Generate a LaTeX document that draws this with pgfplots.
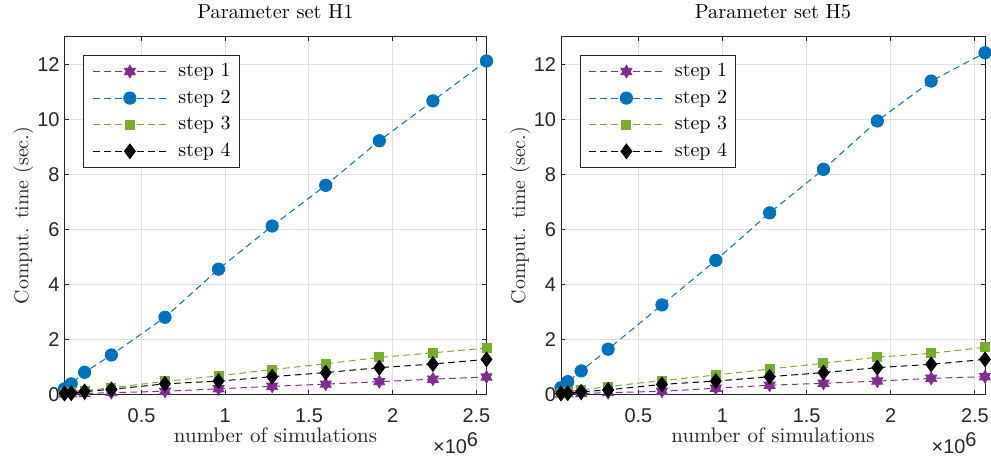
\documentclass[border=0pt]{standalone}
\usepackage{fontspec}
\usepackage{pgfplots}
\usepackage{pgfplotstable}
\pgfplotsset{compat=1.18}
\newfontfamily\ticksf{Liberation Sans}

\definecolor{cpurple}{RGB}{126,47,142}
\definecolor{cblue}{RGB}{0,114,189}
\definecolor{cgreen}{RGB}{119,172,48}
\definecolor{axgray}{RGB}{38,38,38}
\definecolor{gridgray}{RGB}{224,224,224}

% filled six-pointed star (MATLAB 'hexagram')
\pgfdeclareplotmark{hexagram}{%
  \pgfpathmoveto{\pgfqpointpolar{90}{\pgfplotmarksize}}%
  \pgfpathlineto{\pgfqpointpolar{210}{\pgfplotmarksize}}%
  \pgfpathlineto{\pgfqpointpolar{330}{\pgfplotmarksize}}%
  \pgfpathclose
  \pgfpathmoveto{\pgfqpointpolar{270}{\pgfplotmarksize}}%
  \pgfpathlineto{\pgfqpointpolar{30}{\pgfplotmarksize}}%
  \pgfpathlineto{\pgfqpointpolar{150}{\pgfplotmarksize}}%
  \pgfpathclose
  \pgfusepathqfillstroke
}

% x in units of 1e6 simulations
\pgfplotstableread{
n    s1    s2     s3    s4
0.04 0.01  0.20   0.06  0.03
0.08 0.02  0.38   0.08  0.04
0.16 0.03  0.80   0.13  0.10
0.32 0.06  1.43   0.24  0.18
0.64 0.11  2.80   0.47  0.38
0.96 0.20  4.55   0.67  0.48
1.28 0.29  6.12   0.90  0.64
1.60 0.37  7.60   1.11  0.79
1.92 0.46  9.22   1.34  0.97
2.24 0.55  10.67  1.51  1.10
2.56 0.63  12.12  1.68  1.27
}\tableHone

\pgfplotstableread{
n    s1    s2     s3    s4
0.04 0.01  0.24   0.06  0.03
0.08 0.02  0.46   0.09  0.04
0.16 0.03  0.85   0.16  0.09
0.32 0.06  1.64   0.28  0.16
0.64 0.11  3.25   0.50  0.36
0.96 0.22  4.87   0.70  0.48
1.28 0.33  6.60   0.92  0.64
1.60 0.40  8.18   1.13  0.79
1.92 0.48  9.94   1.35  0.97
2.24 0.58  11.39  1.49  1.09
2.56 0.64  12.42  1.71  1.27
}\tableHfive

\pgfplotsset{
  dashln/.style={line width=0.5bp, dash pattern=on 3.3bp off 2.2bp},
  stepone/.style={dashln, color=cpurple, mark=hexagram, mark size=3.1bp,
    mark options={solid, fill=cpurple}},
  steptwo/.style={dashln, color=cblue, mark=*, mark size=3.05bp,
    mark options={solid, fill=cblue}},
  stepthree/.style={dashln, color=cgreen, mark=square*, mark size=2.25bp,
    mark options={solid, fill=cgreen}},
  stepfour/.style={dashln, color=black, mark=diamond*, mark size=3.6bp,
    mark options={solid, fill=black}},
  comptime/.style={
    width=211bp, height=178.75bp, scale only axis,
    anchor=south west, clip=false,
    xmin=0.04, xmax=2.56, ymin=0, ymax=13,
    xtick={0.5,1,1.5,2,2.5}, ytick={0,2,...,12},
    scaled ticks=false,
    /pgf/number format/assume math mode=true,
    ticklabel style={font=\ticksf\fontsize{10}{12}\selectfont, color=axgray},
    xticklabel style={yshift=-3.7bp},
    yticklabel style={xshift=1bp},
    grid=major, major grid style={color=gridgray, line width=0.5bp},
    tick align=inside, major tick length=2.2bp,
    tick style={color=axgray, line width=0.5bp},
    axis line style={color=axgray, line width=0.5bp},
    xlabel={number of simulations}, ylabel={Comput. time (sec.)},
    xlabel style={at={([yshift=-24bp]axis description cs:0.5,0)}, anchor=base,
      font=\fontsize{10.5}{12}\selectfont, color=axgray},
    ylabel style={at={([xshift=-18bp]axis description cs:0,0.5)}, anchor=base,
      rotate=0, font=\fontsize{10}{12}\selectfont, color=axgray},
    title style={at={([yshift=3bp]axis description cs:0.5,1)}, anchor=base,
      font=\fontsize{10.2}{12}\selectfont},
    legend cell align=left,
    legend style={at={(0,1)}, anchor=north west, xshift=9.4bp, yshift=-9.1bp,
      draw=axgray, line width=0.5bp, fill=white,
      font=\fontsize{10}{12}\selectfont,
      inner xsep=4.3bp, inner ysep=3.5bp, row sep=4.3bp, column sep=5.5bp,
      nodes={inner sep=0bp, text height=7bp, text depth=2bp}},
    legend image code/.code={%
      \draw[mark repeat=2,mark phase=2] plot coordinates {(0bp,0bp) (18.5bp,0bp) (37bp,0bp)};},
  },
}

\begin{document}
\begin{tikzpicture}
\path[use as bounding box] (0bp,0bp) rectangle (495.5bp,228bp);

\begin{axis}[comptime, at={(32.25bp,30.85bp)}, title={Parameter set H1}]
\addplot[stepone] table[x=n,y=s1] {\tableHone};
\addplot[steptwo] table[x=n,y=s2] {\tableHone};
\addplot[stepthree] table[x=n,y=s3] {\tableHone};
\addplot[stepfour] table[x=n,y=s4] {\tableHone};
\legend{step 1,step 2,step 3,step 4}
\node[anchor=base east, font=\ticksf\fontsize{10}{12}\selectfont, color=axgray]
  at ([xshift=-0.7bp,yshift=-29.4bp]axis description cs:1,0) {×10\raisebox{3.5bp}{6}};
\end{axis}

\begin{axis}[comptime, at={(280.5bp,30.85bp)}, width=212bp, title={Parameter set H5}]
\addplot[stepone] table[x=n,y=s1] {\tableHfive};
\addplot[steptwo] table[x=n,y=s2] {\tableHfive};
\addplot[stepthree] table[x=n,y=s3] {\tableHfive};
\addplot[stepfour] table[x=n,y=s4] {\tableHfive};
\legend{step 1,step 2,step 3,step 4}
\node[anchor=base east, font=\ticksf\fontsize{10}{12}\selectfont, color=axgray]
  at ([xshift=-0.7bp,yshift=-29.4bp]axis description cs:1,0) {×10\raisebox{3.5bp}{6}};
\end{axis}
\end{tikzpicture}
\end{document}
